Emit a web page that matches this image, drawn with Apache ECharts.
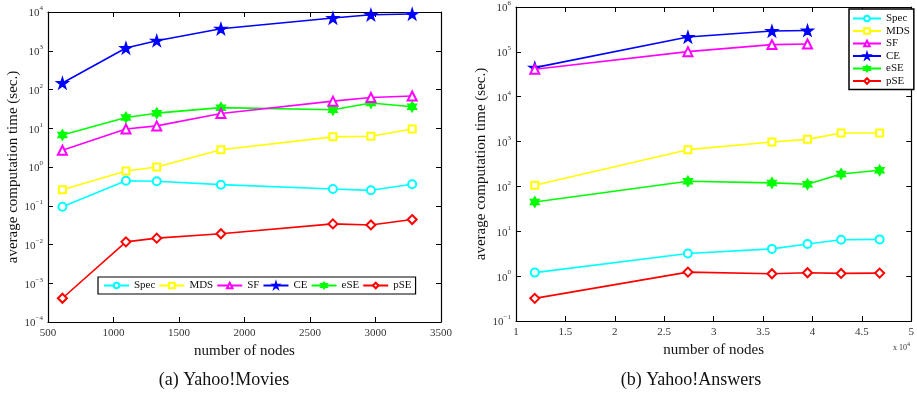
<!DOCTYPE html>
<html><head><meta charset="utf-8">
<script src="https://cdn.jsdelivr.net/npm/echarts@6/dist/echarts.min.js"></script>
<style>html,body{margin:0;padding:0;background:#fff}#c{width:917px;height:397px}</style>
</head><body><div id="c"></div>
<script>
// ---- data: (a) Yahoo!Movies ----
const nodesMovies = [610, 1095, 1330, 1820, 2675, 2965, 3280];
const specMovies = [0.094, 0.44, 0.43, 0.35, 0.27, 0.25, 0.36];
const mdsMovies  = [0.26, 0.79, 1.0, 2.8, 6.0, 6.2, 9.6];
const sfMovies   = [2.7, 9.6, 11.5, 24, 50, 62, 68];
const ceMovies   = [147, 1180, 1820, 3700, 7000, 8500, 8900];
const eseMovies  = [6.7, 19, 24.5, 34, 30, 45, 36];
const pseMovies  = [0.00041, 0.0117, 0.0146, 0.0189, 0.034, 0.032, 0.044];
// ---- data: (b) Yahoo!Answers (x in units of 10^4) ----
const nodesAnswers = [1.19, 2.74, 3.59, 3.95, 4.29, 4.68];
const specAnswers = [1.2, 3.19, 4.05, 5.2, 6.5, 6.6];
const mdsAnswers  = [106, 660, 980, 1120, 1550, 1550];
const sfAnswers   = [41000, 101000, 145000, 150000];
const ceAnswers   = [44500, 214000, 292000, 300000];
const eseAnswers  = [45, 130, 120, 112, 190, 229];
const pseAnswers  = [0.32, 1.23, 1.13, 1.19, 1.15, 1.17];
const seriesNames = ['Spec', 'MDS', 'SF', 'CE', 'eSE', 'pSE'];
const xTicksMovies = [500, 1000, 1500, 2000, 2500, 3000, 3500];
const xTicksAnswers = [1, 1.5, 2, 2.5, 3, 3.5, 4, 4.5, 5];

const colors = {Spec:'#00ffff', MDS:'#ffff00', SF:'#ff00ff', CE:'#0000ff', eSE:'#00ff00', pSE:'#ff0000'};
const STAR = 'path://M50,0 L61,35 L98,35 L68,57 L79,91 L50,70 L21,91 L32,57 L2,35 L39,35 Z';
const HEX = 'path://M50,0 L64.4,25 L93.3,25 L78.9,50 L93.3,75 L64.4,75 L50,100 L35.6,75 L6.7,75 L21.1,50 L6.7,25 L35.6,25 Z';
const symbols = {Spec:'emptyCircle', MDS:'emptyRect', SF:'emptyTriangle', CE:STAR, eSE:HEX, pSE:'emptyDiamond'};
const sizes = {Spec:8, MDS:7, SF:9, CE:11, eSE:10, pSE:9};

const FONT = '"Liberation Serif", "DejaVu Serif", serif';
function logLabel(v){
  const e = Math.round(Math.log10(v));
  return '{b|10}{s|' + (e < 0 ? '\u2212' + (-e) : e) + '}';
}
const richLbl = {b:{fontSize:11, fontFamily:FONT, color:'#333', verticalAlign:'bottom', lineHeight:14},
                 s:{fontSize:7, fontFamily:FONT, color:'#333', verticalAlign:'top', lineHeight:14, padding:[0,0,6,0]}};

function makeSeries(xs, lists, xi, yi){
  const out = [];
  seriesNames.forEach((n, k) => {
    const ys = lists[k];
    out.push({
      name:n, type:'line', xAxisIndex:xi, yAxisIndex:yi,
      data: ys.map((y, i) => [xs[i], y]),
      symbol: symbols[n], symbolSize: sizes[n], symbolKeepAspect:true,
      showAllSymbol:true, animation:false,
      color: colors[n],
      lineStyle:{color:colors[n], width:1.6},
      itemStyle:{color: colors[n], borderColor: colors[n], borderWidth:1.5},
      z: 10 - k
    });
  });
  return out;
}

const axisLine = {show:true, onZero:false, lineStyle:{color:'#000', width:1.2}};
const tickIn = {show:true, inside:true, length:5, lineStyle:{color:'#000'}};
const grids = [
  {left:48, top:12, width:393, height:310},
  {left:516, top:7, width:399, height:314}
];
function xAx(gi, min, max, interval, labels, top){
  return {
    type:'value', gridIndex:gi, min, max, interval, position: top ? 'top' : 'bottom',
    axisLine, axisTick:tickIn, splitLine:{show:false},
    axisLabel: top ? {show:false} : {show:true, fontSize:11, fontFamily:FONT, color:'#333', margin:6,
      formatter: v => String(v)},
    name: top ? '' : 'number of nodes', nameLocation:'middle', nameGap:20,
    nameTextStyle:{fontSize:15, fontFamily:FONT, color:'#111'}
  };
}
function yAx(gi, min, max, right, gap){
  return {
    type:'log', logBase:10, gridIndex:gi, min, max, position: right ? 'right' : 'left',
    axisLine, axisTick:tickIn, splitLine:{show:false},
    axisLabel: right ? {show:false} : {show:true, formatter: logLabel, rich: richLbl, margin:5},
    name: right ? '' : 'average computation time (sec.)', nameLocation:'middle', nameGap:gap,
    nameTextStyle:{fontSize:15, fontFamily:FONT, color:'#111'}
  };
}

const option = {
  backgroundColor:'#fff',
  animation:false,
  grid: grids,
  xAxis: [
    xAx(0, 500, 3500, 500, xTicksMovies, false),
    xAx(0, 500, 3500, 500, xTicksMovies, true),
    xAx(1, 1, 5, 0.5, xTicksAnswers, false),
    xAx(1, 1, 5, 0.5, xTicksAnswers, true)
  ],
  yAxis: [
    yAx(0, 1e-4, 1e4, false, 26),
    yAx(0, 1e-4, 1e4, true, 0),
    yAx(1, 1e-1, 1e6, false, 27),
    yAx(1, 1e-1, 1e6, true, 0)
  ],
  legend: [
    {orient:'horizontal', left:98, top:277, itemWidth:25, itemHeight:7, itemGap:3,
     padding:[3,4,3,5], borderColor:'#000', borderWidth:1.2, backgroundColor:'#fff',
     textStyle:{fontSize:11, fontFamily:FONT, color:'#111'}, data: seriesNames},
    {orient:'vertical', left:849, top:9, itemWidth:28, itemHeight:7, itemGap:1.5,
     padding:[4,4,3,3], borderColor:'#000', borderWidth:1.5, backgroundColor:'#fff',
     textStyle:{fontSize:11, fontFamily:FONT, color:'#111'}, data: seriesNames}
  ],
  graphic: [
    {type:'text', left:893, top:341, style:{text:'{a|x 10}{e|4}', rich:{a:{fontSize:8, fontFamily:FONT, fill:'#333', verticalAlign:'bottom'}, e:{fontSize:6, fontFamily:FONT, fill:'#333', verticalAlign:'top', padding:[0,0,5,0]}}}},
    {type:'text', x:224, y:380, style:{text:'(a) Yahoo!Movies', fontSize:18, fontFamily:FONT, fill:'#111', align:'center', verticalAlign:'middle'}},
    {type:'text', x:691, y:380, style:{text:'(b) Yahoo!Answers', fontSize:18, fontFamily:FONT, fill:'#111', align:'center', verticalAlign:'middle'}}
  ],
  series: [].concat(
    makeSeries(nodesMovies, [specMovies, mdsMovies, sfMovies, ceMovies, eseMovies, pseMovies], 0, 0),
    makeSeries(nodesAnswers, [specAnswers, mdsAnswers, sfAnswers, ceAnswers, eseAnswers, pseAnswers], 2, 2)
  )
};
const chart = echarts.init(document.getElementById('c'), null, {renderer:'canvas'});
chart.setOption(option);
</script></body></html>
